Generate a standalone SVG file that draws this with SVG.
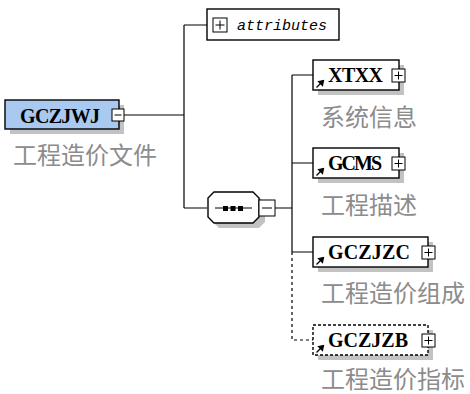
<svg xmlns="http://www.w3.org/2000/svg" width="470" height="394" viewBox="0 0 470 394">
<defs>
<style>
.bg{fill:#ffffff}
.shadow{fill:#c2c2c2;stroke:none}
.box{fill:#ffffff;stroke:#000;stroke-width:1.4}
.root{fill:#a9c9f0;stroke:#000;stroke-width:1.4}
.dashed{stroke-dasharray:3,2}
.exp{fill:#fff;stroke:#000;stroke-width:1}
.sign{stroke:#000;stroke-width:1;fill:none}
.name{font-family:"Liberation Serif",serif;font-weight:bold;font-size:20px;fill:#000}
.label{font-family:"Noto Sans CJK SC","Noto Sans",sans-serif;font-size:24px;fill:#8c8c8c}
.attr{font-family:"Liberation Mono",monospace;font-style:italic;font-size:15px;fill:#000}
.conn{stroke:#000;stroke-width:1.2;fill:none}
.dconn{stroke:#000;stroke-width:1.2;fill:none;stroke-dasharray:3,3}
.ref{fill:#000;stroke:#000;stroke-width:1.2}
</style>
</defs>
<rect class="bg" x="0" y="0" width="470" height="394"/>

<g id="connectors">
<path class="conn" d="M124,115 H184 M184,25 V208 M184,25 H207 M184,208 H207"/>
<path class="conn" d="M275,208 H292 M292,75 V252 M292,75 H313 M292,163 H313 M292,252 H313"/>
<path class="dconn" d="M292,252 V340 H313"/>
</g>

<g id="GCZJWJ">
<rect class="shadow" x="10" y="105" width="114" height="29"/>
<rect class="root" x="5" y="100" width="114" height="29"/>
<text class="name" x="20" y="123" textLength="80">GCZJWJ</text>
<rect class="exp" x="112" y="109" width="12" height="12"/>
<path class="sign" d="M114.5,115 H121.5"/>
<text class="label" x="13" y="164">工程造价文件</text>
</g>

<g id="attributes">
<rect class="box" x="207" y="9" width="132" height="31"/>
<rect class="exp" x="213" y="18" width="14" height="14"/>
<path class="sign" d="M215.5,25 H224.5 M220,20.5 V29.5"/>
<text class="attr" x="237" y="30" textLength="90">attributes</text>
</g>

<g id="sequence">
<path class="shadow" d="M219,197 H259 L265,203 V222 L259,228 H219 L213,222 V203 Z"/>
<path class="box" d="M214,192 H253 L259,198 V217 L253,223 H214 L208,217 V198 Z"/>
<path class="conn" d="M215,208 H252"/>
<rect x="223" y="206" width="5" height="5" fill="#000"/>
<rect x="230.5" y="206" width="5" height="5" fill="#000"/>
<rect x="238" y="206" width="5" height="5" fill="#000"/>
<rect class="exp" x="259" y="200" width="16" height="16"/>
<path class="sign" d="M262,208 H272"/>
</g>

<g id="XTXX">
<rect class="shadow" x="318" y="65" width="86" height="30"/>
<rect class="box" x="313" y="60" width="86" height="30"/>
<path class="ref" d="M316.5,87.5 L321,83"/>
<path class="ref" d="M318.5,81.5 L323.5,80.5 L322.5,85.5 Z"/>
<text class="name" x="328" y="82" textLength="55">XTXX</text>
<rect class="exp" x="392" y="69" width="13" height="13"/>
<path class="sign" d="M394.5,75.5 H402.5 M398.5,71.5 V79.5"/>
<text class="label" x="321" y="126">系统信息</text>
</g>

<g id="GCMS">
<rect class="shadow" x="318" y="153" width="86" height="30"/>
<rect class="box" x="313" y="148" width="86" height="30"/>
<path class="ref" d="M316.5,175.5 L321,171"/>
<path class="ref" d="M318.5,169.5 L323.5,168.5 L322.5,173.5 Z"/>
<text class="name" x="328" y="170" textLength="54">GCMS</text>
<rect class="exp" x="392" y="157" width="13" height="13"/>
<path class="sign" d="M394.5,163.5 H402.5 M398.5,159.5 V167.5"/>
<text class="label" x="321" y="214">工程描述</text>
</g>

<g id="GCZJZC">
<rect class="shadow" x="318" y="242" width="115" height="30"/>
<rect class="box" x="313" y="237" width="115" height="30"/>
<path class="ref" d="M316.5,264.5 L321,260"/>
<path class="ref" d="M318.5,258.5 L323.5,257.5 L322.5,262.5 Z"/>
<text class="name" x="328" y="259" textLength="82">GCZJZC</text>
<rect class="exp" x="422" y="246" width="13" height="13"/>
<path class="sign" d="M424.5,252.5 H432.5 M428.5,248.5 V256.5"/>
<text class="label" x="321" y="302">工程造价组成</text>
</g>

<g id="GCZJZB">
<rect class="shadow" x="318" y="330" width="115" height="30"/>
<rect class="box dashed" x="313" y="325" width="115" height="30"/>
<path class="ref" d="M316.5,352.5 L321,348"/>
<path class="ref" d="M318.5,346.5 L323.5,345.5 L322.5,350.5 Z"/>
<text class="name" x="328" y="347" textLength="80">GCZJZB</text>
<rect class="exp" x="422" y="334" width="13" height="13"/>
<path class="sign" d="M424.5,340.5 H432.5 M428.5,336.5 V344.5"/>
<text class="label" x="321" y="388">工程造价指标</text>
</g>
</svg>
